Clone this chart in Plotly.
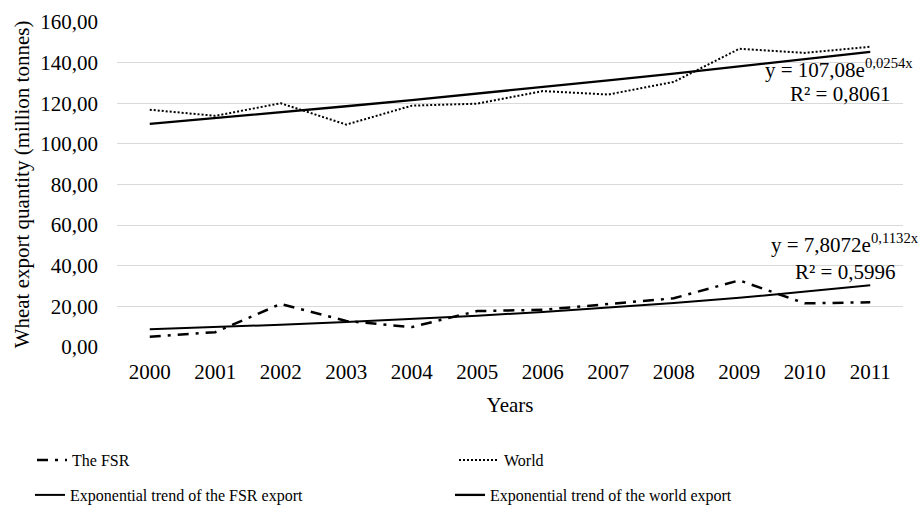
import plotly.graph_objects as go

years = ["2000", "2001", "2002", "2003", "2004", "2005", "2006", "2007", "2008", "2009", "2010", "2011"]
fsr = [5.0, 7.3, 21.2, 12.8, 9.8, 17.7, 18.3, 21.2, 24.0, 32.8, 21.5, 22.0]
world = [116.8, 113.8, 120.0, 109.5, 118.8, 119.8, 126.0, 124.3, 130.5, 146.8, 144.8, 147.8]
fsr_trend = [8.74, 9.79, 10.96, 12.28, 13.75, 15.40, 17.24, 19.31, 21.63, 24.22, 27.12, 30.37]
world_trend = [109.83, 112.66, 115.56, 118.53, 121.58, 124.71, 127.92, 131.21, 134.58, 138.05, 141.60, 145.24]
y_ticks = [0, 20, 40, 60, 80, 100, 120, 140, 160]
y_ticktext = ["0,00", "20,00", "40,00", "60,00", "80,00", "100,00", "120,00", "140,00", "160,00"]

FONT = "Liberation Serif"
W, H = 923, 505

fig = go.Figure()
fig.add_trace(go.Scatter(x=years, y=fsr, mode="lines", name="The FSR", legend="legend",
                         line=dict(color="black", width=2.5, dash="11px,7px,3px,7px")))
fig.add_trace(go.Scatter(x=years, y=world, mode="lines", name="World", legend="legend2",
                         line=dict(color="black", width=2, dash="2px,2px")))
fig.add_trace(go.Scatter(x=years, y=fsr_trend, mode="lines", name="Exponential trend of the FSR export",
                         legend="legend3", line=dict(color="black", width=2)))
fig.add_trace(go.Scatter(x=years, y=world_trend, mode="lines", name="Exponential trend of the world export",
                         legend="legend4", line=dict(color="black", width=2.3)))

ann_font = dict(family=FONT, size=21, color="black")
fig.add_annotation(x=1.015, y=0.856, xref="paper", yref="paper", xanchor="right", yanchor="middle",
                   text="y = 107,08e<sup>0,0254x</sup>", showarrow=False, font=ann_font)
fig.add_annotation(x=0.986, y=0.778, xref="paper", yref="paper", xanchor="right", yanchor="middle",
                   text="R² = 0,8061", showarrow=False, font=ann_font)
fig.add_annotation(x=1.023, y=0.318, xref="paper", yref="paper", xanchor="right", yanchor="middle",
                   text="y = 7,8072e<sup>0,1132x</sup>", showarrow=False, font=ann_font)
fig.add_annotation(x=0.992, y=0.231, xref="paper", yref="paper", xanchor="right", yanchor="middle",
                   text="R² = 0,5996", showarrow=False, font=ann_font)


def leg(px, py, iw=30):
    return dict(orientation="h", xanchor="left", yanchor="middle", xref="container", yref="container",
                x=px / W, y=1 - py / H, font=dict(family=FONT, size=16), itemwidth=iw,
                bgcolor="rgba(0,0,0,0)")


fig.update_layout(
    width=W, height=H,
    margin=dict(l=117, r=20, t=22, b=158),
    paper_bgcolor="white", plot_bgcolor="white",
    font=dict(family=FONT, size=21, color="black"),
    showlegend=True,
    legend=leg(32, 460),
    legend2=leg(454, 460, 40),
    legend3=leg(30, 495),
    legend4=leg(450, 495),
    xaxis=dict(type="category", range=[-0.5, 11.5], showgrid=False, showline=False, ticks="",
               ticklabelstandoff=10, automargin=False,
               title=dict(text="Years", standoff=14, font=dict(size=21))),
    yaxis=dict(range=[0, 160], tickvals=y_ticks, ticktext=y_ticktext, showgrid=True,
               gridcolor="#d9d9d9", gridwidth=1, zeroline=False, showline=False, ticks="",
               ticklabelstandoff=18, automargin=False,
               title=dict(text="Wheat export quantity (million tonnes)", standoff=4, font=dict(size=21))),
)

fig.write_html("out.html", config={"displayModeBar": False},
               post_script="document.body.style.margin='0';")
